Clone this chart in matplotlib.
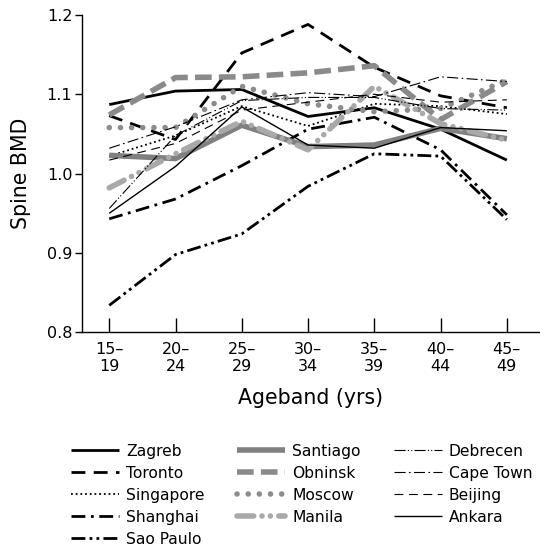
import matplotlib
matplotlib.use("Agg")
import matplotlib.pyplot as plt

plt.rcParams['font.family'] = ['DejaVu Sans']

agebands = ["15–\n19", "20–\n24", "25–\n29", "30–\n34", "35–\n39", "40–\n44", "45–\n49"]

zagreb    = [1.087, 1.104, 1.106, 1.072, 1.083, 1.056, 1.017]
toronto   = [1.073, 1.043, 1.152, 1.188, 1.134, 1.098, 1.083]
singapore = [1.022, 1.048, 1.085, 1.060, 1.088, 1.085, 1.075]
shanghai  = [0.943, 0.968, 1.010, 1.056, 1.071, 1.030, 0.948]
sao_paulo = [0.834, 0.898, 0.924, 0.984, 1.025, 1.022, 0.942]
santiago  = [1.023, 1.019, 1.061, 1.034, 1.036, 1.057, 1.044]
obninsk   = [1.074, 1.121, 1.122, 1.127, 1.136, 1.068, 1.116]
moscow    = [1.058, 1.058, 1.110, 1.088, 1.078, 1.082, 1.118]
manila    = [0.982, 1.025, 1.066, 1.030, 1.110, 1.063, 1.042]
debrecen  = [0.956, 1.048, 1.092, 1.096, 1.096, 1.082, 1.080]
cape_town = [1.032, 1.059, 1.093, 1.102, 1.097, 1.122, 1.116]
beijing   = [1.017, 1.038, 1.080, 1.090, 1.100, 1.090, 1.093]
ankara    = [0.950, 1.009, 1.084, 1.036, 1.032, 1.058, 1.054]

series = [
    ("Zagreb", zagreb, dict(color="black", lw=2.0, ls="-")),
    ("Toronto", toronto, dict(color="black", lw=2.0, ls=(0, (5, 3)))),
    ("Singapore", singapore, dict(color="black", lw=1.3, ls=(0, (1, 1.6)))),
    ("Shanghai", shanghai, dict(color="black", lw=2.0, ls=(0, (5, 2, 1, 2)))),
    ("Sao Paulo", sao_paulo, dict(color="black", lw=2.0, ls=(0, (5, 1.5, 1, 1.5, 1, 1.5)))),
    ("Santiago", santiago, dict(color="#808080", lw=4.0, ls="-")),
    ("Obninsk", obninsk, dict(color="#8a8a8a", lw=4.0, ls=(0, (3, 1.3)))),
    ("Moscow", moscow, dict(color="#8c8c8c", lw=4.0, ls=(0, (0.01, 2.0)), dash_capstyle="round")),
    ("Manila", manila, dict(color="#a9a9a9", lw=4.0, ls=(0, (3, 1.5, 0.01, 1.5, 0.01, 1.5)), dash_capstyle="round")),
    ("Debrecen", debrecen, dict(color="black", lw=0.8, ls=(0, (10, 2, 1, 2, 1, 2)))),
    ("Cape Town", cape_town, dict(color="black", lw=0.8, ls=(0, (10, 3, 1.5, 3)))),
    ("Beijing", beijing, dict(color="black", lw=0.8, ls=(0, (8, 5)))),
    ("Ankara", ankara, dict(color="black", lw=1.0, ls="-")),
]

fig = plt.figure(figsize=(5.4, 5.52), dpi=100)
ax = fig.add_axes([0.152, 0.398, 0.848, 0.575])

x = list(range(len(agebands)))
for name, vals, st in series:
    ax.plot(x, vals, label=name, solid_capstyle="butt", **st)

ax.set_xlim(-0.41, 6.5)
ax.set_ylim(0.8, 1.2)
ax.set_xticks(x)
ax.set_xticklabels(agebands, fontsize=11.5, linespacing=1.15)
ax.set_yticks([0.8, 0.9, 1.0, 1.1, 1.2])
ax.set_yticklabels(["0.8", "0.9", "1.0", "1.1", "1.2"], fontsize=11.5)
ax.tick_params(axis="x", direction="in", length=10, width=1, pad=7)
ax.tick_params(axis="y", direction="out", length=5, width=1, pad=2)
for s in ["top", "right"]:
    ax.spines[s].set_visible(False)
ax.spines["left"].set_linewidth(1)
ax.spines["bottom"].set_linewidth(1)

ax.set_ylabel("Spine BMD", fontsize=14.8, labelpad=11)
ax.set_xlabel("Ageband (yrs)", fontsize=14.8, labelpad=10)

handles, labels = ax.get_legend_handles_labels()
fig.legend(handles, labels, ncol=3, loc="upper left",
           bbox_to_anchor=(0.131, 0.196), bbox_transform=fig.transFigure,
           frameon=False, fontsize=11.2, borderpad=0, borderaxespad=0,
           handlelength=3.1, handletextpad=0.45, columnspacing=2.1,
           labelspacing=0.45)

fig.savefig("out.png", dpi=100)
